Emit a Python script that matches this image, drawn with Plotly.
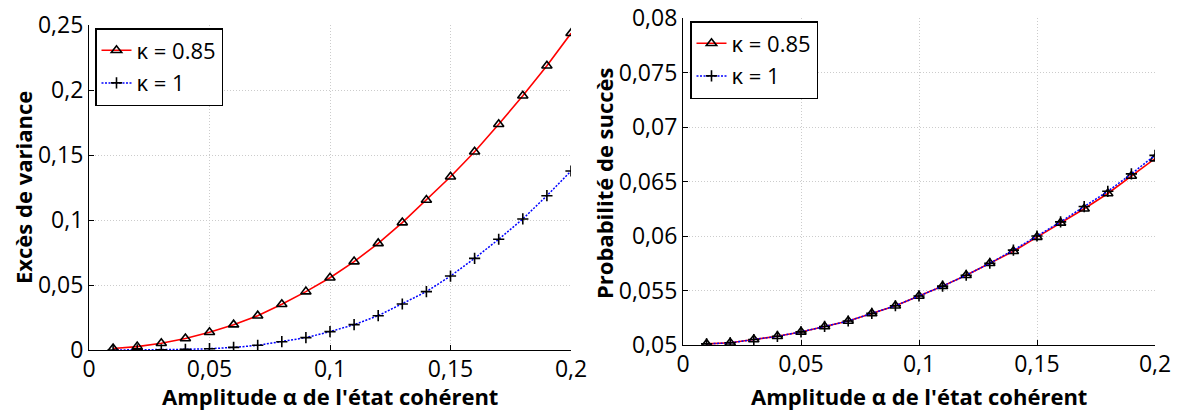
import plotly.graph_objects as go
from plotly.subplots import make_subplots

alpha = [0.01, 0.02, 0.03, 0.04, 0.05, 0.06, 0.07, 0.08, 0.09, 0.10,
         0.11, 0.12, 0.13, 0.14, 0.15, 0.16, 0.17, 0.18, 0.19, 0.20]

var_k085 = [0.0012, 0.0026, 0.0052, 0.0088, 0.0136, 0.0195, 0.0264, 0.0352, 0.0449, 0.0556,
            0.0680, 0.0820, 0.0980, 0.1154, 0.1333, 0.1525, 0.1736, 0.1956, 0.2187, 0.2436]
var_k1 = [0.0000, 0.0001, 0.0002, 0.0005, 0.0010, 0.0020, 0.0036, 0.0064, 0.0095, 0.0141,
          0.0195, 0.0264, 0.0354, 0.0449, 0.0569, 0.0705, 0.0852, 0.1008, 0.1187, 0.1377]

prob_k085 = [0.0501, 0.0502, 0.0505, 0.0508, 0.0512, 0.0517, 0.0522, 0.0529, 0.0536, 0.0545,
             0.0554, 0.0564, 0.0575, 0.0586, 0.0599, 0.0612, 0.0625, 0.0639, 0.0655, 0.0671]
prob_k1 = [0.0501, 0.0502, 0.0505, 0.0508, 0.0512, 0.0517, 0.0522, 0.0529, 0.0536, 0.0545,
           0.0554, 0.0564, 0.0575, 0.0587, 0.0600, 0.0613, 0.0627, 0.0641, 0.0657, 0.0674]

names = ["κ = 0.85", "κ = 1"]
x_title = "Amplitude α de l'état cohérent"
y_titles = ["Excès de variance", "Probabilité de succès"]

FONT = "Open Sans"
W, H = 1180, 410
OFF = 8  # the page body adds an 8px margin; compensate so the chart sits where intended

def px_x(v):
    return (v - OFF) / W

def px_y(v):
    return (H - (v - OFF)) / H

fig = make_subplots(rows=1, cols=2)

def add_pair(col, yred, yblue, legend):
    fig.add_trace(go.Scatter(
        x=alpha, y=yred, name=names[0], mode="lines+markers",
        line=dict(color="#ff0000", width=1.6),
        marker=dict(symbol="triangle-up-open", size=9, color="black",
                    line=dict(color="black", width=1.6)),
        legend=legend, legendgroup=legend + "a"), row=1, col=col)
    fig.add_trace(go.Scatter(
        x=alpha, y=yblue, name=names[1], mode="lines+markers",
        line=dict(color="#0000ff", width=1.5, dash="2px,1.5px"),
        marker=dict(symbol="cross-thin", size=8, color="black",
                    line=dict(color="black", width=1.6)),
        legend=legend, legendgroup=legend + "b"), row=1, col=col)

add_pair(1, var_k085, var_k1, "legend")
add_pair(2, prob_k085, prob_k1, "legend2")

axis_common = dict(
    showline=True, linecolor="black", linewidth=1.2,
    ticks="inside", ticklen=5, tickcolor="black",
    showgrid=True, gridcolor="#cccccc", griddash="1px,2px", gridwidth=1,
    zeroline=False, mirror=False, automargin=False,
    ticklabeloverflow="allow",
    tickfont=dict(family=FONT, size=23, color="black"),
)
title_font = dict(family=FONT, size=22, color="black")

fig.update_xaxes(**axis_common, range=[0, 0.2], tickvals=[0, 0.05, 0.1, 0.15, 0.2],
                 ticklabelstandoff=-2)
fig.update_xaxes(domain=[px_x(89), px_x(571)], row=1, col=1)
fig.update_xaxes(domain=[px_x(683), px_x(1155)], row=1, col=2)

fig.update_yaxes(**axis_common)
fig.update_yaxes(range=[0, 0.25], tickvals=[0, 0.05, 0.1, 0.15, 0.2, 0.25],
                 domain=[px_y(350), px_y(25)], row=1, col=1)
fig.update_yaxes(range=[0.05, 0.08],
                 tickvals=[0.05, 0.055, 0.06, 0.065, 0.07, 0.075, 0.08],
                 domain=[px_y(345), px_y(18)], row=1, col=2)

# axis titles
for cx in (330, 919):
    fig.add_annotation(text="<b>" + x_title + "</b>", xref="paper", yref="paper",
                       x=px_x(cx), y=px_y(396), xanchor="center", yanchor="middle",
                       showarrow=False, font=title_font)
for cx, cy, t in ((23, 188, y_titles[0]), (604, 183, y_titles[1])):
    fig.add_annotation(text="<b>" + t + "</b>", xref="paper", yref="paper",
                       x=px_x(cx), y=px_y(cy), xanchor="center", yanchor="middle",
                       textangle=-90, showarrow=False, font=title_font)

legend_common = dict(
    bgcolor="white", bordercolor="black", borderwidth=1.5,
    font=dict(family=FONT, size=22, color="black"),
    xanchor="left", yanchor="top", itemwidth=30, tracegroupgap=1,
)
fig.update_layout(
    legend=dict(**legend_common, x=px_x(95), y=px_y(28)),
    legend2=dict(**legend_common, x=px_x(690), y=px_y(21)),
    width=W, height=H,
    margin=dict(l=0, r=0, t=0, b=0),
    paper_bgcolor="white", plot_bgcolor="white",
    separators=",.",
    font=dict(family=FONT, color="black"),
)

fig.write_html("out.html")
